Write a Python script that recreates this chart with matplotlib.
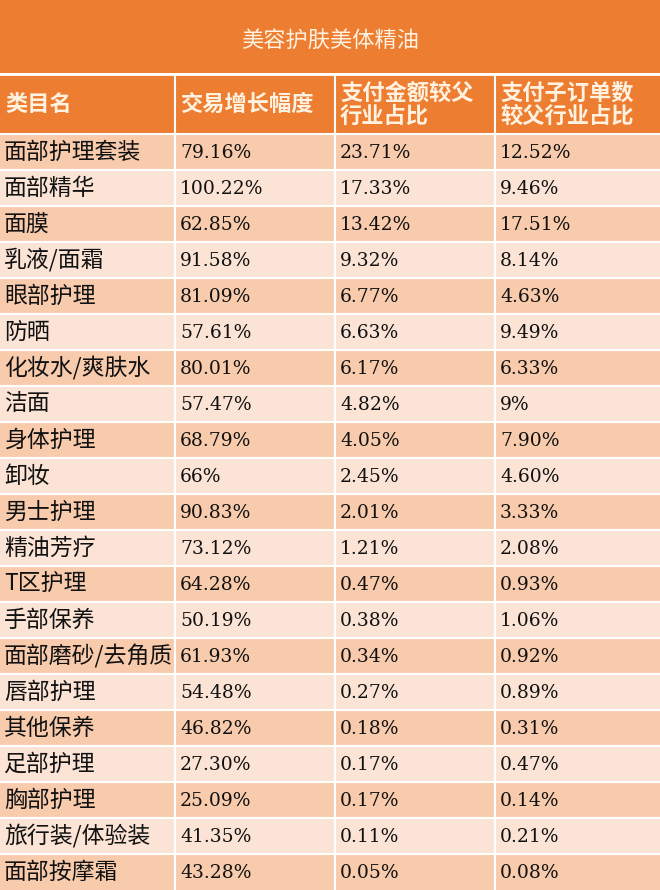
import matplotlib
matplotlib.use("Agg")
import matplotlib.pyplot as plt
from matplotlib.patches import Rectangle

title = "美容护肤美体精油"
headers = ["类目名", "交易增长幅度", "支付金额较父\n行业占比", "支付子订单数\n较父行业占比"]
categories = ["面部护理套装", "面部精华", "面膜", "乳液/面霜", "眼部护理", "防晒", "化妆水/爽肤水", "洁面",
              "身体护理", "卸妆", "男士护理", "精油芳疗", "T区护理", "手部保养", "面部磨砂/去角质",
              "唇部护理", "其他保养", "足部护理", "胸部护理", "旅行装/体验装", "面部按摩霜"]
growth = ["79.16%", "100.22%", "62.85%", "91.58%", "81.09%", "57.61%", "80.01%", "57.47%", "68.79%", "66%",
          "90.83%", "73.12%", "64.28%", "50.19%", "61.93%", "54.48%", "46.82%", "27.30%", "25.09%", "41.35%", "43.28%"]
pay_share = ["23.71%", "17.33%", "13.42%", "9.32%", "6.77%", "6.63%", "6.17%", "4.82%", "4.05%", "2.45%",
             "2.01%", "1.21%", "0.47%", "0.38%", "0.34%", "0.27%", "0.18%", "0.17%", "0.17%", "0.11%", "0.05%"]
order_share = ["12.52%", "9.46%", "17.51%", "8.14%", "4.63%", "9.49%", "6.33%", "9%", "7.90%", "4.60%",
               "3.33%", "2.08%", "0.93%", "1.06%", "0.92%", "0.89%", "0.31%", "0.47%", "0.14%", "0.21%", "0.08%"]

W, H = 660, 890
fig = plt.figure(figsize=(W/100, H/100), dpi=100)
ax = fig.add_axes([0, 0, 1, 1])
ax.set_xlim(0, W); ax.set_ylim(H, 0); ax.axis("off")

orange = "#ED7D31"
dark_row = "#F8CBAD"
light_row = "#FBE4D5"
cols = [0, 175, 335, 495, 660]
cjk = "Noto Sans CJK SC"
serif = "DejaVu Serif"

ax.add_patch(Rectangle((0, 0), W, 73, facecolor=orange, edgecolor="none"))
ax.text(W/2, 40, title, ha="center", va="center", color="#FFF2E0", fontsize=16, family=cjk)
ax.plot([0, W], [73.5, 73.5], color="white", lw=2)

hy0, hy1 = 75, 134
ax.add_patch(Rectangle((0, hy0), W, hy1-hy0, facecolor=orange, edgecolor="none"))
for i, h in enumerate(headers):
    ax.text(cols[i]+5, (hy0+hy1)/2, h, ha="left", va="center", color="#FFF2E0",
            fontsize=16, family=cjk, linespacing=1.0, fontweight="bold")

n = len(categories)
rh = (H - hy1) / n
for r in range(n):
    y = hy1 + r*rh
    ax.add_patch(Rectangle((0, y), W, rh, facecolor=dark_row if r % 2 == 0 else light_row, edgecolor="none"))
    ax.plot([0, W], [y, y], color="white", lw=1.5)
    yc = y + rh/2
    ax.text(cols[0]+4, yc, categories[r], ha="left", va="center", fontsize=16.5, family=cjk, color="#111111")
    for j, v in enumerate([growth[r], pay_share[r], order_share[r]]):
        ax.text(cols[j+1]+5, yc+1, v, ha="left", va="center", fontsize=13.5, family=serif, color="#111111")
for x in cols[1:-1]:
    ax.plot([x, x], [hy0, H], color="white", lw=1.5)

fig.savefig("out.png", dpi=100)
